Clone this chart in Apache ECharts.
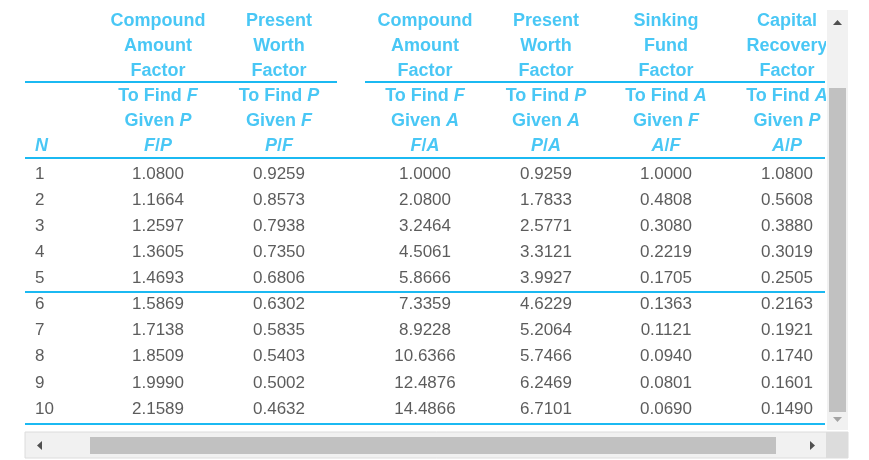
<!DOCTYPE html>
<html><head><meta charset="utf-8">
<script src="https://cdn.jsdelivr.net/npm/echarts@6/dist/echarts.min.js"></script>
<style>html,body{margin:0;padding:0;background:#fff}#main{width:869px;height:460px}</style>
</head><body><div id="main"></div>
<script>
// header lines and periods
var headRows = ['h1','h2','h3','h4','h5','h6'];
var periods = ['1','2','3','4','5','6','7','8','9','10'];
var colX = [35, 158, 279, 425, 546, 666, 787];

var headers = [
    ['', '', '', '', '', '{i|N}'],
    ['Compound', 'Amount', 'Factor', 'To Find {i|F}', 'Given {i|P}', '{i|F}/{i|P}'],
    ['Present', 'Worth', 'Factor', 'To Find {i|P}', 'Given {i|F}', '{i|P}/{i|F}'],
    ['Compound', 'Amount', 'Factor', 'To Find {i|F}', 'Given {i|A}', '{i|F}/{i|A}'],
    ['Present', 'Worth', 'Factor', 'To Find {i|P}', 'Given {i|A}', '{i|P}/{i|A}'],
    ['Sinking', 'Fund', 'Factor', 'To Find {i|A}', 'Given {i|F}', '{i|A}/{i|F}'],
    ['Capital', 'Recovery', 'Factor', 'To Find {i|A}', 'Given {i|P}', '{i|A}/{i|P}']
];

var fp = ['1.0800','1.1664','1.2597','1.3605','1.4693','1.5869','1.7138','1.8509','1.9990','2.1589'];
var pf = ['0.9259','0.8573','0.7938','0.7350','0.6806','0.6302','0.5835','0.5403','0.5002','0.4632'];
var fa = ['1.0000','2.0800','3.2464','4.5061','5.8666','7.3359','8.9228','10.6366','12.4876','14.4866'];
var pa = ['0.9259','1.7833','2.5771','3.3121','3.9927','4.6229','5.2064','5.7466','6.2469','6.7101'];
var af = ['1.0000','0.4808','0.3080','0.2219','0.1705','0.1363','0.1121','0.0940','0.0801','0.0690'];
var ap = ['1.0800','0.5608','0.3880','0.3019','0.2505','0.2163','0.1921','0.1740','0.1601','0.1490'];

var cyan = '#1BB9F2';
var headData = [], bodyData = [];
headers.forEach(function (col, c) {
    col.forEach(function (t, r) {
        if (t) headData.push({value: [colX[c], headRows[r]], name: t,
            label: {align: c === 0 ? 'left' : 'center'}});
    });
});
var cols = [periods, fp, pf, fa, pa, af, ap];
cols.forEach(function (col, c) {
    col.forEach(function (t, r) {
        bodyData.push({value: [colX[c], periods[r]], name: t,
            label: {align: c === 0 ? 'left' : 'center'}});
    });
});

function hline(x1, x2, y) {
    return {type: 'rect', shape: {x: x1, y: y, width: x2 - x1, height: 2}, style: {fill: cyan}, silent: true};
}

var myChart = echarts.init(document.getElementById('main'));
var option = {
    animation: false,
    grid: [
        {left: 0, right: 0, top: 9, height: 149},
        {left: 0, right: 0, top: 161, height: 261}
    ],
    xAxis: [
        {gridIndex: 0, type: 'value', min: 0, max: 869, show: false},
        {gridIndex: 1, type: 'value', min: 0, max: 869, show: false}
    ],
    yAxis: [
        {gridIndex: 0, type: 'category', data: headRows, inverse: true, show: false},
        {gridIndex: 1, type: 'category', data: periods, inverse: true, show: false}
    ],
    series: [
        {
            type: 'scatter', symbolSize: 0, data: headData, xAxisIndex: 0, yAxisIndex: 0,
            label: {show: true, position: 'inside', formatter: '{b}', color: cyan,
                fontFamily: 'Arial, Liberation Sans', fontSize: 18, fontWeight: 'bold',
                rich: {i: {fontStyle: 'italic', fontWeight: 'bold', color: cyan,
                    fontFamily: 'Arial, Liberation Sans', fontSize: 18}}}
        },
        {
            type: 'scatter', symbolSize: 0, data: bodyData, xAxisIndex: 1, yAxisIndex: 1,
            label: {show: true, position: 'inside', formatter: '{b}', color: '#333',
                fontFamily: 'Arial, Liberation Sans', fontSize: 17}
        }
    ],
    graphic: [
        hline(25, 337, 81), hline(365, 825, 81), hline(25, 825, 157),
        hline(25, 825, 291), hline(25, 825, 423),
        // vertical scrollbar
        {type: 'rect', z: 100, shape: {x: 826, y: 0, width: 43, height: 460}, style: {fill: '#fff'}},
        {type: 'rect', z: 101, shape: {x: 827, y: 10, width: 21, height: 420}, style: {fill: '#f1f1f1'}},
        {type: 'rect', z: 102, shape: {x: 829, y: 88, width: 17, height: 324}, style: {fill: '#c1c1c1'}},
        {type: 'polygon', z: 102, shape: {points: [[833, 25], [837.5, 20], [842, 25]]}, style: {fill: '#505050'}},
        {type: 'polygon', z: 102, shape: {points: [[833, 417], [837.5, 422], [842, 417]]}, style: {fill: '#a3a3a3'}},
        // horizontal scrollbar
        {type: 'rect', z: 101, shape: {x: 25, y: 432, width: 823, height: 26}, style: {fill: '#f1f1f1', stroke: '#dcdcdc'}},
        {type: 'rect', z: 102, shape: {x: 90, y: 437, width: 686, height: 17}, style: {fill: '#c1c1c1'}},
        {type: 'polygon', z: 102, shape: {points: [[42, 441], [37, 445.5], [42, 450]]}, style: {fill: '#505050'}},
        {type: 'polygon', z: 102, shape: {points: [[810, 441], [815, 445.5], [810, 450]]}, style: {fill: '#505050'}},
        {type: 'rect', z: 101, shape: {x: 826, y: 432, width: 22, height: 26}, style: {fill: '#dcdcdc'}}
    ]
};
myChart.setOption(option);
</script>
</body></html>
